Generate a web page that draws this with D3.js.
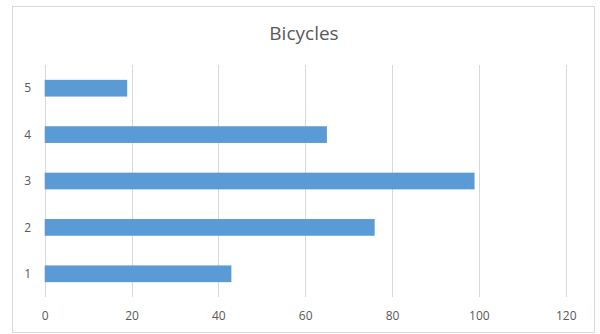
<!DOCTYPE html>
<html>
<head>
<meta charset="utf-8">
<script src="https://cdn.jsdelivr.net/npm/d3@7"></script>
<style>
  html, body { margin: 0; padding: 0; background: #fff; }
  svg { display: block; }
  text { font-family: "Open Sans", "Noto Sans", sans-serif; fill: #595959; }
</style>
</head>
<body>
<svg id="chart" width="600" height="334"></svg>
<script>
// Bicycles per category
const categories = ["1", "2", "3", "4", "5"];
const values = [43, 76, 99, 65, 19];
const xTicks = [0, 20, 40, 60, 80, 100, 120];
const chartTitle = "Bicycles";

const svg = d3.select("#chart");
const W = 600, H = 334;

// outer chart frame
svg.append("rect")
  .attr("x", 12.5).attr("y", 6.5)
  .attr("width", 582).attr("height", 326)
  .attr("fill", "#fff")
  .attr("stroke", "#d9d9d9")
  .attr("stroke-width", 1);

const plot = { left: 44.7, right: 565.7, top: 65, bottom: 297 };

const x = d3.scaleLinear().domain([0, 120]).range([plot.left, plot.right]);
const y = d3.scaleBand()
  .domain(categories.slice().reverse())
  .range([plot.top, plot.bottom])
  .paddingInner(0.64)
  .paddingOuter(0.32);

// title
svg.append("text")
  .attr("x", 304).attr("y", 40)
  .attr("text-anchor", "middle")
  .style("font-size", "19px")
  .text(chartTitle);

// vertical gridlines
svg.append("g")
  .selectAll("line")
  .data(xTicks)
  .join("line")
  .attr("x1", d => Math.round(x(d)) + 0.5)
  .attr("x2", d => Math.round(x(d)) + 0.5)
  .attr("y1", plot.top)
  .attr("y2", plot.bottom)
  .attr("stroke", "#d9d9d9")
  .attr("stroke-width", 1);

// bars
svg.append("g")
  .selectAll("rect")
  .data(categories.map((c, i) => ({ c, v: values[i] })))
  .join("rect")
  .attr("x", x(0))
  .attr("y", d => y(d.c))
  .attr("width", d => x(d.v) - x(0))
  .attr("height", y.bandwidth())
  .attr("fill", "#5b9bd5");

// x axis labels
const xAxis = d3.axisBottom(x).tickValues(xTicks).tickSize(0).tickPadding(0);
const gx = svg.append("g")
  .attr("transform", `translate(0,${plot.bottom})`)
  .call(xAxis);
gx.select(".domain").remove();
gx.selectAll("text")
  .attr("y", 23)
  .attr("dy", null)
  .style("font-size", "12px")
  .attr("fill", "#595959");

// y axis labels
const yAxis = d3.axisLeft(y).tickSize(0).tickPadding(0);
const gy = svg.append("g")
  .attr("transform", `translate(${plot.left},0)`)
  .call(yAxis);
gy.select(".domain").remove();
gy.selectAll("text")
  .attr("x", -17)
  .attr("text-anchor", "middle")
  .attr("dy", "0.35em")
  .style("font-size", "12px")
  .attr("fill", "#595959");
</script>
</body>
</html>
